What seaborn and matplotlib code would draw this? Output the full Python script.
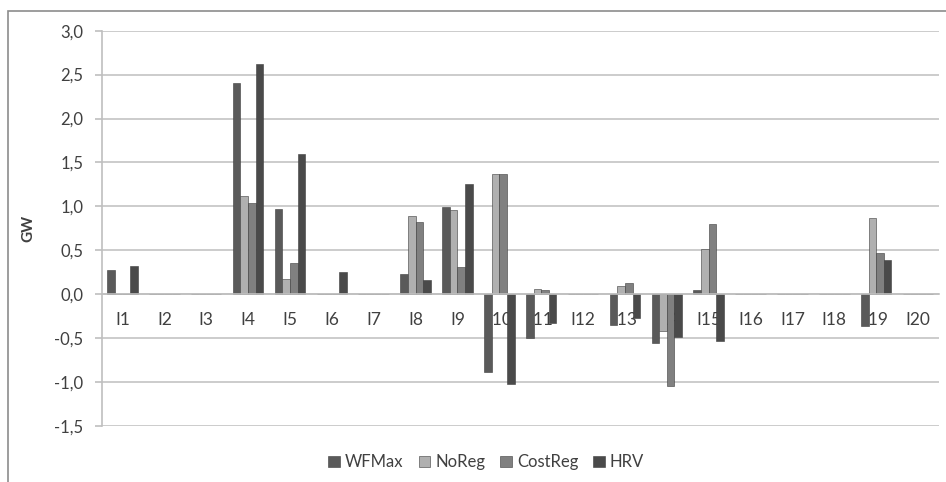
import matplotlib.pyplot as plt
import seaborn as sns
import pandas as pd
from matplotlib.patches import Rectangle
from matplotlib.ticker import FuncFormatter, FixedLocator

categories = [f"I{i}" for i in range(1, 21)]
series = ["WFMax", "NoReg", "CostReg", "HRV"]

wfmax   = [0.28, 0, 0, 2.40, 0.97, 0, 0, 0.23, 0.99, -0.89, -0.50, 0, -0.35, -0.56, 0.045, 0, 0, 0, -0.36, 0]
noreg   = [0, 0, 0, 1.12, 0.17, 0, 0, 0.89, 0.96, 1.37, 0.065, 0, 0.094, -0.42, 0.52, 0, 0, 0, 0.87, 0]
costreg = [0, 0, 0, 1.04, 0.36, 0, 0, 0.82, 0.31, 1.37, 0.053, 0, 0.125, -1.04, 0.80, 0, 0, 0, 0.47, 0]
hrv     = [0.32, 0, 0, 2.62, 1.60, 0.25, 0, 0.16, 1.26, -1.02, -0.33, 0, -0.265, -0.49, -0.53, 0, 0, 0, 0.385, 0]

colors = ["#5a5a5a", "#b0b0b0", "#808080", "#4a4a4a"]

df = pd.DataFrame({
    "cat": categories * 4,
    "series": sum([[s] * 20 for s in series], []),
    "GW": wfmax + noreg + costreg + hrv,
})

sns.set_style("white")
plt.rcParams["font.family"] = ["Lato", "DejaVu Sans"]

fig = plt.figure(figsize=(9.46, 4.82), dpi=100)
ax = fig.add_axes([0.1073, 0.1162, 0.8853, 0.8201])

sns.barplot(data=df, x="cat", y="GW", hue="series", palette=colors,
            width=0.727, gap=0, ax=ax, legend=True, saturation=1,
            edgecolor="#3c3c3c", linewidth=0.4)

ax.set_xlim(-0.5, 19.5)
ax.set_ylim(-1.5, 3.0)
ax.set_yticks([-1.5, -1.0, -0.5, 0, 0.5, 1.0, 1.5, 2.0, 2.5, 3.0])
ax.yaxis.set_major_formatter(FuncFormatter(lambda v, p: f"{v:.1f}".replace(".", ",")))
ax.yaxis.grid(True, color="#c4c4c4", linewidth=1.2)
ax.set_axisbelow(True)

for s in ["top", "right"]:
    ax.spines[s].set_visible(False)
ax.spines["left"].set_color("#bfbfbf")
ax.spines["left"].set_linewidth(1.2)
ax.spines["bottom"].set_position(("data", 0))
ax.spines["bottom"].set_color("#bfbfbf")
ax.spines["bottom"].set_linewidth(1.2)

# category boundaries get tick marks, centers get labels
ax.xaxis.set_major_locator(FixedLocator([i - 0.5 for i in range(21)]))
ax.xaxis.set_major_formatter(FuncFormatter(lambda v, p: ""))
ax.xaxis.set_minor_locator(FixedLocator(list(range(20))))
ax.set_xticklabels(categories, minor=True)
ax.tick_params(axis="x", which="major", direction="out", length=5, color="#bfbfbf", width=1.2)
ax.tick_params(axis="x", which="minor", length=0, pad=13, labelsize=12.5, labelcolor="#404040")
ax.tick_params(axis="y", direction="out", length=5, color="#bfbfbf", width=1.2,
               labelsize=12, labelcolor="#404040", left=True, pad=8)

ax.set_xlabel("")
ax.set_ylabel("GW", fontsize=11, fontweight="bold", color="#404040", labelpad=14)

ax.legend(loc="center", bbox_to_anchor=(0.514, 0.041), bbox_transform=fig.transFigure,
          ncol=4, frameon=False, handlelength=0.7, handleheight=0.7, handletextpad=0.3,
          columnspacing=0.9, fontsize=12, labelcolor="#404040", title=None)

fig.patches.append(Rectangle((8 / 946, -0.05), 1.1, 1 - 11 / 482 + 0.05, transform=fig.transFigure,
                             fill=False, edgecolor="#8c8c8c", linewidth=1.2, zorder=-1))

fig.savefig("out.png", dpi=100)
plt.close()
